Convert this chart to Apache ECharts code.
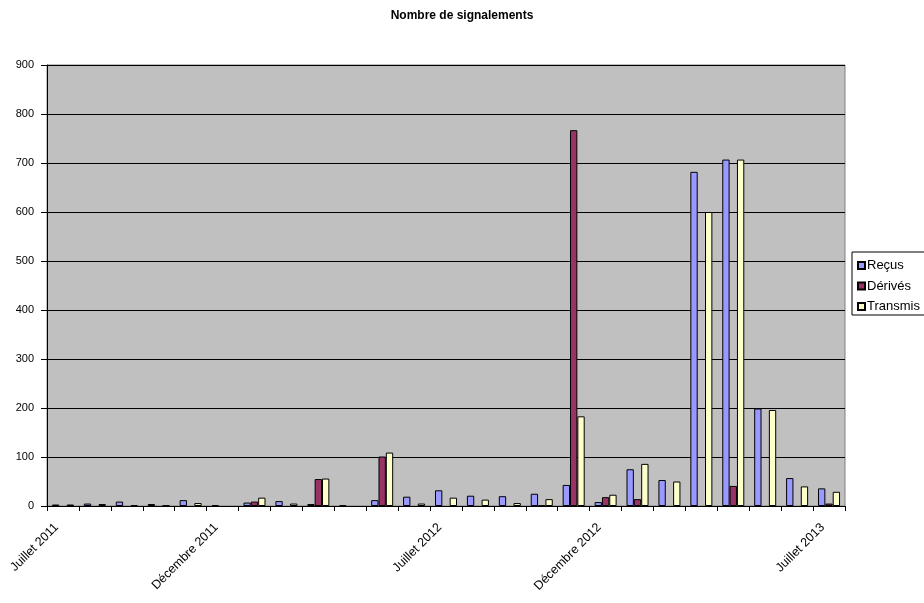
<!DOCTYPE html>
<html>
<head>
<meta charset="utf-8">
<script src="https://cdn.jsdelivr.net/npm/echarts@6/dist/echarts.min.js"></script>
<style>
  html, body { margin: 0; padding: 0; background: #fff; }
  #chart { width: 924px; height: 603px; }
</style>
</head>
<body>
<div id="chart"></div>
<script>
// mois de juillet 2011 à juillet 2013
var mois = ['Juillet 2011', 'Août 2011', 'Septembre 2011', 'Octobre 2011', 'Novembre 2011', 'Décembre 2011',
    'Janvier 2012', 'Février 2012', 'Mars 2012', 'Avril 2012', 'Mai 2012', 'Juin 2012',
    'Juillet 2012', 'Août 2012', 'Septembre 2012', 'Octobre 2012', 'Novembre 2012', 'Décembre 2012',
    'Janvier 2013', 'Février 2013', 'Mars 2013', 'Avril 2013', 'Mai 2013', 'Juin 2013', 'Juillet 2013'];
// seuls ces libellés sont affichés sous l'axe
var moisAffiches = [0, 5, 12, 17, 24];

var recus     = [3, 5, 9, 4, 12, 2, 7, 10, 4, 2, 12, 19, 32, 21, 20, 25, 43, 8, 75, 53, 682, 707, 199, 57, 36];
var derives   = [0, 0, 0, 0, 0, 0, 9, 0, 55, 0, 101, 0, 0, 0, 0, 1, 767, 18, 14, 0, 0, 41, 0, 0, 5];
var transmis  = [3, 4, 2, 1, 6, 0, 17, 5, 56, 0, 109, 5, 17, 13, 6, 14, 183, 23, 86, 50, 600, 707, 196, 40, 29];

var police = 'Arial, "Liberation Sans", sans-serif';

var myChart = echarts.init(document.getElementById('chart'));

function serie(nom, donnees, couleur) {
    return {
        name: nom,
        type: 'bar',
        // pas de barre du tout quand la valeur est nulle
        data: donnees.map(function (v) { return v === 0 ? '-' : v; }),
        barGap: '0%',
        barCategoryGap: '31%',
        itemStyle: { color: couleur, borderColor: '#000', borderWidth: 1 }
    };
}

var option = {
    animation: false,
    title: {
        text: 'Nombre de signalements',
        left: 'center',
        top: 5,
        textStyle: { fontFamily: police, fontSize: 12, fontWeight: 'bold', color: '#000' }
    },
    legend: {
        orient: 'vertical',
        left: 852,
        top: 252,
        icon: 'rect',
        itemWidth: 7,
        itemHeight: 7,
        itemGap: 7.5,
        padding: [7, 6, 2, 5],
        borderColor: '#000',
        borderWidth: 1,
        backgroundColor: '#fff',
        textStyle: { fontFamily: police, fontSize: 13, color: '#000', padding: [0, 0, 0, -3] },
        data: ['Reçus', 'Dérivés', 'Transmis']
    },
    grid: {
        left: 47,
        right: 79,
        top: 65,
        bottom: 97,
        show: true,
        backgroundColor: '#C0C0C0',
        borderColor: '#808080',
        borderWidth: 1
    },
    xAxis: {
        type: 'category',
        data: mois,
        axisLine: { lineStyle: { color: '#000' } },
        axisTick: { show: true, length: 5, interval: 0, lineStyle: { color: '#000' } },
        axisLabel: {
            rotate: 45,
            margin: 13,
            padding: [0, 9, 0, 0],
            fontFamily: police,
            fontSize: 12.5,
            color: '#000',
            interval: function (index) {
                return moisAffiches.indexOf(index) >= 0;
            }
        }
    },
    yAxis: {
        type: 'value',
        min: 0,
        max: 900,
        interval: 100,
        axisLine: { show: true, lineStyle: { color: '#000' } },
        axisTick: { show: true, length: 6, lineStyle: { color: '#000' } },
        axisLabel: { fontFamily: police, fontSize: 11, color: '#000', margin: 13 },
        splitLine: { lineStyle: { color: '#000', width: 1 } }
    },
    series: [
        serie('Reçus', recus, '#9999FF'),
        serie('Dérivés', derives, '#993366'),
        serie('Transmis', transmis, '#FFFFCC')
    ]
};

myChart.setOption(option);
</script>
</body>
</html>
